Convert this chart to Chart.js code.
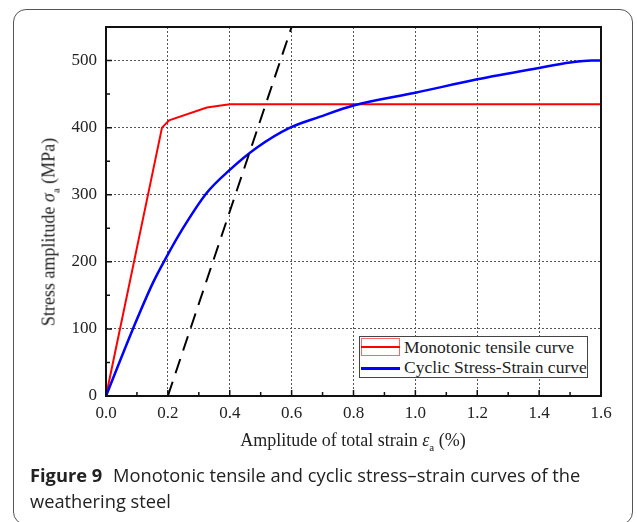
<!DOCTYPE html>
<html>
<head>
<meta charset="utf-8">
<script src="https://cdn.jsdelivr.net/npm/chart.js@4.4.1/dist/chart.umd.min.js"></script>
<style>
  body { margin: 0; background: #fff; width: 637px; height: 522px; overflow: hidden; position: relative; }
  #frame { position: absolute; left: 13px; top: 9px; width: 620px; height: 516px; border: 1.3px solid #555; border-radius: 13px; box-sizing: border-box; }
  #myGrafic { position: absolute; left: 0; top: 0; }
  .serif { font-family: "Liberation Serif", "Times New Roman", serif; color: #222; position: absolute; white-space: nowrap; }
  #ytitle { font-size: 18px; left: 50px; top: 232px; transform: translate(-50%, -50%) rotate(-90deg); }
  #xtitle { font-size: 18px; left: 353px; top: 441px; transform: translate(-50%, -50%); }
  sub { font-size: 11px; vertical-align: -5px; }
  #legend { position: absolute; left: 359px; top: 336px; width: 229px; height: 42px; border: 1px solid #444; background: #fff; box-sizing: border-box; }
  .sample { position: absolute; left: 1px; width: 39px; }
  .ltext { font-size: 17.5px; left: 44px; }
  #caption { position: absolute; left: 30px; top: 462px; font-family: "Open Sans", sans-serif; font-size: 18.3px; line-height: 26px; color: #222; }
  #caption b { font-weight: 700; margin-right: 6px; }
</style>
</head>
<body>
<div id="frame"></div>
<canvas id="myGrafic" width="637" height="522"></canvas>
<div class="serif" id="ytitle">Stress amplitude <i>σ</i><sub>a</sub> (MPa)</div>
<div class="serif" id="xtitle">Amplitude of total strain <i>ε</i><sub>a</sub> (%)</div>
<div id="legend">
  <div class="sample" style="top:1px;height:18px;border:1px solid #f66;box-sizing:border-box;"></div>
  <div class="sample" style="top:9px;height:2px;background:#f00;"></div>
  <div class="serif ltext" style="top:0px;">Monotonic tensile curve</div>
  <div class="sample" style="top:30px;height:2.5px;background:#00f;"></div>
  <div class="serif ltext" style="top:20px;">Cyclic Stress-Strain curve</div>
</div>
<div id="caption"><b>Figure 9</b> Monotonic tensile and cyclic stress–strain curves of the<br>weathering steel</div>

<script>
// Curvas: deformacion total (%) vs amplitud de tension (MPa)
let monoStrain = [0, 0.181, 0.204, 0.326, 0.40, 1.6];
let monoStress = [0, 400, 411, 430, 435, 435];

let cyclicStrain = [0, 0.087, 0.152, 0.194, 0.246, 0.326, 0.40, 0.487, 0.595, 0.69, 0.80, 1.0, 1.2, 1.4, 1.5, 1.57, 1.6];
let cyclicStress = [0, 100, 169, 206, 248, 303, 337, 370, 400, 416, 433, 452, 472, 489, 497, 500, 500];

// Recta elastica desplazada 0.2 %
let offsetStrain = [0.2, 0.6];
let offsetStress = [0, 550];

let xTicks = [0, 0.2, 0.4, 0.6, 0.8, 1.0, 1.2, 1.4, 1.6];
let yTicks = [0, 100, 200, 300, 400, 500];

function toPoints(xs, ys){
  return xs.map((x, i) => ({x: x, y: ys[i]}));
}

// Marco del area y marcas hacia dentro (mayores y menores)
const framePlugin = {
  id: 'framePlugin',
  afterDraw(chart){
    const ctx = chart.ctx;
    const a = chart.chartArea;
    const xs = chart.scales.x, ys = chart.scales.y;
    ctx.save();
    ctx.strokeStyle = '#111';
    ctx.lineWidth = 1.5;
    ctx.beginPath();
    for(let i = 0; i < xTicks.length; i++){
      let px = xs.getPixelForValue(xTicks[i]);
      ctx.moveTo(px, a.bottom); ctx.lineTo(px, a.bottom - 6);
      if(i < xTicks.length - 1){
        let mx = xs.getPixelForValue((xTicks[i] + xTicks[i + 1]) / 2);
        ctx.moveTo(mx, a.bottom); ctx.lineTo(mx, a.bottom - 4);
      }
    }
    for(let i = 0; i < yTicks.length; i++){
      let py = ys.getPixelForValue(yTicks[i]);
      ctx.moveTo(a.left, py); ctx.lineTo(a.left + 6, py);
      let my = ys.getPixelForValue(yTicks[i] + 50);
      ctx.moveTo(a.left, my); ctx.lineTo(a.left + 4, my);
    }
    ctx.stroke();
    ctx.lineWidth = 2;
    ctx.strokeRect(a.left, a.top, a.right - a.left, a.bottom - a.top);
    ctx.restore();
  }
};

let myChart = {
  type: 'scatter',
  data: {
    datasets: [
      {
        label: 'Monotonic tensile curve',
        data: toPoints(monoStrain, monoStress),
        showLine: true,
        borderColor: '#ff0000',
        borderWidth: 2,
        pointRadius: 0,
        tension: 0,
        order: 2
      },
      {
        label: 'Cyclic Stress-Strain curve',
        data: toPoints(cyclicStrain, cyclicStress),
        showLine: true,
        borderColor: '#0000ff',
        borderWidth: 2.5,
        pointRadius: 0,
        cubicInterpolationMode: 'monotone',
        order: 1
      },
      {
        label: '0.2% offset',
        data: toPoints(offsetStrain, offsetStress),
        showLine: true,
        borderColor: '#000',
        borderWidth: 2,
        borderDash: [15, 9],
        pointRadius: 0,
        order: 0
      }
    ]
  },
  options: {
    responsive: false,
    animation: false,
    layout: { padding: { top: 27, right: 36, left: 0, bottom: 0 } },
    plugins: {
      legend: { display: false },
      tooltip: { enabled: false }
    },
    scales: {
      x: {
        type: 'linear',
        min: 0,
        max: 1.6,
        afterBuildTicks: (s) => { s.ticks = xTicks.map(v => ({value: v})); },
        afterFit: (s) => { s.height = 126; },
        ticks: {
          callback: (v) => Number(v).toFixed(1),
          font: { family: 'Liberation Serif', size: 17 },
          color: '#222',
          padding: 7,
          maxRotation: 0
        },
        grid: { color: '#555', lineWidth: 1, drawTicks: false },
        border: { display: false, dash: [2, 2] }
      },
      y: {
        type: 'linear',
        min: 0,
        max: 550,
        afterBuildTicks: (s) => { s.ticks = yTicks.map(v => ({value: v})); },
        afterFit: (s) => { s.width = 106; },
        ticks: {
          font: { family: 'Liberation Serif', size: 17 },
          color: '#222',
          padding: 9
        },
        grid: { color: '#555', lineWidth: 1, drawTicks: false },
        border: { display: false, dash: [2, 2] }
      }
    }
  },
  plugins: [framePlugin]
};

var myGrafic = document.getElementById('myGrafic');
window.grafica = new Chart(myGrafic, myChart);
</script>
</body>
</html>
